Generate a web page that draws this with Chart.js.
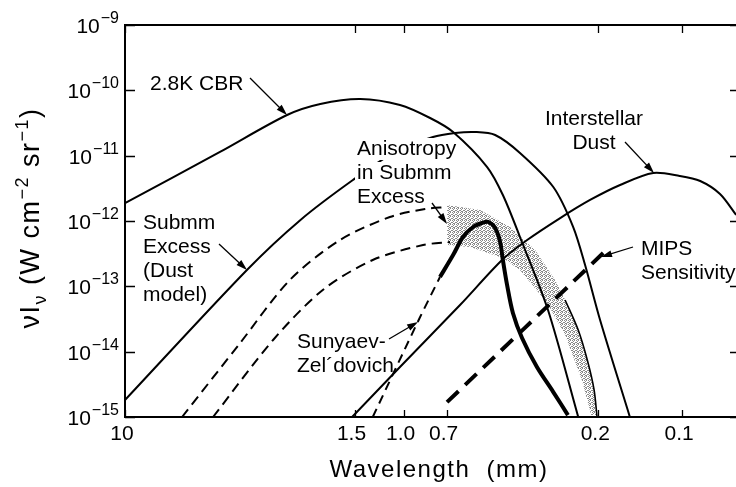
<!DOCTYPE html>
<html>
<head>
<meta charset="utf-8">
<script src="https://cdn.jsdelivr.net/npm/chart.js@4.4.1/dist/chart.umd.min.js"></script>
<style>
  html, body { margin: 0; padding: 0; background: #fff; overflow: hidden; }
  #wrap { width: 736px; height: 487px; overflow: hidden; }
</style>
</head>
<body>
<div id="wrap"><canvas id="chart" width="740" height="487"></canvas></div>
<script>
// === Data: wavelength (mm) vs nu*I_nu (W cm^-2 sr^-1) ===
const xTickValues = [10, 1.5, 1.0, 0.7, 0.2, 0.1];
const xTickLabels = ["10", "1.5", "1.0", "0.7", "0.2", "0.1"];
const yTickExponents = [-9, -10, -11, -12, -13, -14, -15];

const cbrWave = [10, 4.56, 2.62, 1.99, 1.43, 1.03, 0.803, 0.664, 0.501, 0.440, 0.382, 0.303, 0.236];
const cbrFlux = [1.88e-12, 1.14e-11, 4.19e-11, 6.18e-11, 7.36e-11, 5.96e-11, 3.77e-11, 2.30e-11, 6.70e-12, 2.50e-12, 5.69e-13, 4.34e-14, 1.0e-15];

const submmWave = [10, 3.65, 2.35, 1.52, 1.07, 0.784, 0.653, 0.553, 0.469, 0.382, 0.290, 0.246, 0.223, 0.197, 0.154];
const submmFlux = [1.82e-15, 1.78e-13, 1.03e-12, 4.24e-12, 1.14e-11, 1.93e-11, 2.22e-11, 2.30e-11, 2.07e-11, 1.10e-11, 3.31e-12, 8.09e-13, 2.12e-13, 3.05e-14, 1.0e-15];

const dustWave = [1.53, 1.03, 0.627, 0.443, 0.360, 0.274, 0.214, 0.167, 0.127, 0.102, 0.0861, 0.0731, 0.0640];
const dustFlux = [1.0e-15, 5.82e-15, 5.18e-14, 2.53e-13, 5.12e-13, 1.11e-12, 2.10e-12, 3.56e-12, 5.43e-12, 4.89e-12, 4.09e-12, 2.59e-12, 1.24e-12];

const szLowWave = [1.29, 0.879, 0.740];
const szLowFlux = [1.0e-15, 3.16e-14, 1.39e-13];

const szWave = [0.740, 0.664, 0.612, 0.563, 0.523, 0.497, 0.469, 0.450, 0.440, 0.425, 0.405, 0.3755, 0.332, 0.290, 0.257];
const szFlux = [1.39e-13, 3.01e-13, 5.69e-13, 8.09e-13, 9.32e-13, 9.66e-13, 7.82e-13, 4.77e-13, 2.53e-13, 1.05e-13, 3.91e-14, 1.62e-14, 5.82e-15, 2.41e-15, 1.07e-15];

const anisoHighWave = [6.24, 3.86, 2.56, 1.69, 1.12, 0.837, 0.698];
const anisoHighFlux = [1.0e-15, 1.36e-14, 1.25e-13, 5.12e-13, 1.15e-12, 1.53e-12, 1.64e-12];

const anisoLowWave = [4.83, 2.94, 1.95, 1.29, 0.851, 0.681];
const anisoLowFlux = [1.0e-15, 1.51e-14, 8.79e-14, 2.53e-13, 4.29e-13, 4.77e-13];

// solid edge of the anisotropy band down to the axis
const anisoEdgeWave = [0.263, 0.236, 0.218, 0.207, 0.202];
const anisoEdgeFlux = [6.18e-14, 2.14e-14, 6.95e-15, 2.59e-15, 1.0e-15];

// outline of the stippled band (upper edge, then lower edge back)
const bandWave = [0.698, 0.531, 0.415, 0.337, 0.286, 0.252, 0.229, 0.214, 0.202, 0.212, 0.229, 0.263, 0.305, 0.382, 0.440, 0.577, 0.698];
const bandFlux = [1.76e-12, 1.47e-12, 8.09e-13, 3.60e-13, 1.25e-13, 4.34e-14, 1.51e-14, 5.24e-15, 1.07e-15, 1.07e-15, 3.68e-15, 1.80e-14, 5.56e-14, 1.78e-13, 2.71e-13, 4.00e-13, 4.29e-13];

const mipsWave = [0.698, 0.192];
const mipsFlux = [1.69e-15, 3.23e-13];

const FONT = "'Liberation Sans', Arial, sans-serif";

function pts(w, f) {
    return w.map((v, i) => ({ x: v, y: f[i] }));
}

function curve(data, width, dash) {
    return {
        data: data,
        borderColor: "#000",
        borderWidth: width,
        borderDash: dash || [],
        pointRadius: 0,
        fill: false,
        tension: 0.3
    };
}

// stipple pattern for the shaded band
function stipple() {
    const c = document.createElement("canvas");
    c.width = 4; c.height = 4;
    const g = c.getContext("2d");
    g.fillStyle = "rgba(60,60,60,0.6)";
    [[0, 0], [2, 0], [1, 1], [3, 2], [0, 2], [2, 3], [1, 3]].forEach(p => g.fillRect(p[0], p[1], 1, 1));
    return g.createPattern(c, "repeat");
}

// === Annotation labels and arrows (pixel layout) ===
const notes = [
    { lines: ["2.8K CBR"], x: 150, y: 90, align: "left", arrow: [250, 78, 287, 115] },
    { lines: ["Submm", "Excess", "(Dust", "model)"], x: 143, y: 229, align: "left", arrow: [219, 244, 247, 270] },
    { lines: ["Anisotropy", "in Submm", "Excess"], x: 357, y: 155, align: "left", arrow: [432, 203, 447, 224], blank: true },
    { lines: ["Interstellar", "Dust"], x: 594, y: 125, align: "center", arrow: [625, 142, 654, 173] },
    { lines: ["MIPS", "Sensitivity"], x: 641, y: 255, align: "left", arrow: [633, 247, 601, 257] },
    { lines: ["Sunyaev-", "Zel\u00b4dovich"], x: 297, y: 348, align: "left", arrow: [389, 339, 418, 322] }
];

function drawArrow(ctx, x1, y1, x2, y2) {
    const a = Math.atan2(y2 - y1, x2 - x1);
    ctx.beginPath();
    ctx.moveTo(x1, y1);
    ctx.lineTo(x2 - 6 * Math.cos(a), y2 - 6 * Math.sin(a));
    ctx.lineWidth = 1.3;
    ctx.stroke();
    ctx.beginPath();
    ctx.moveTo(x2, y2);
    ctx.lineTo(x2 - 11 * Math.cos(a) + 3.5 * Math.sin(a), y2 - 11 * Math.sin(a) - 3.5 * Math.cos(a));
    ctx.lineTo(x2 - 11 * Math.cos(a) - 3.5 * Math.sin(a), y2 - 11 * Math.sin(a) + 3.5 * Math.cos(a));
    ctx.closePath();
    ctx.fill();
}

const decorations = {
    id: "decorations",
    afterDatasetsDraw(chart) {
        const ctx = chart.ctx;
        const area = chart.chartArea;
        const xs = chart.scales.x;
        const ys = chart.scales.y;
        ctx.save();
        ctx.strokeStyle = "#000";
        ctx.fillStyle = "#000";

        // frame
        ctx.lineWidth = 2;
        ctx.strokeRect(area.left, area.top, area.right - area.left, area.bottom - area.top);

        // inward ticks
        ctx.lineWidth = 1.3;
        yTickExponents.forEach(e => {
            const py = Math.round(ys.getPixelForValue(Math.pow(10, e))) + 0.5;
            ctx.beginPath();
            ctx.moveTo(area.left, py); ctx.lineTo(area.left + 10, py);
            ctx.moveTo(area.right, py); ctx.lineTo(area.right - 8, py);
            ctx.stroke();
        });
        xTickValues.forEach(v => {
            const px = Math.round(xs.getPixelForValue(v)) + 0.5;
            ctx.beginPath();
            ctx.moveTo(px, area.bottom); ctx.lineTo(px, area.bottom - 7);
            ctx.moveTo(px, area.top); ctx.lineTo(px, area.top + 8);
            ctx.stroke();
        });

        // y tick labels 10^n
        yTickExponents.forEach(e => {
            const py = ys.getPixelForValue(Math.pow(10, e));
            const exp = "\u2212" + String(-e);
            ctx.font = "16px " + FONT;
            const we = ctx.measureText(exp).width;
            ctx.textAlign = "left";
            ctx.textBaseline = "alphabetic";
            ctx.fillText(exp, 119 - we, py - 2);
            ctx.font = "21px " + FONT;
            const wb = ctx.measureText("10").width;
            ctx.fillText("10", 119 - we - wb - 1, py + 8);
        });

        // x tick labels
        ctx.font = "21px " + FONT;
        ctx.textAlign = "center";
        ctx.textBaseline = "alphabetic";
        xTickValues.forEach((v, i) => {
            const px = xs.getPixelForValue(v);
            ctx.fillText(xTickLabels[i], px - 3, 440);
        });

        // x axis title
        ctx.font = "24px " + FONT;
        ctx.letterSpacing = "1.5px";
        ctx.fillText("Wavelength  (mm)", 439, 477);

        // y axis title, rotated, with sub/superscripts
        const parts = [
            ["\u03bd", 27, 0], ["I", 27, 0], ["\u03bd", 18, 7],
            [" (W cm", 27, 0], ["\u22122", 18, -11], [" sr", 27, 0], ["\u22121", 18, -11], [")", 27, 0]
        ];
        let total = 0;
        parts.forEach(p => { ctx.font = p[1] + "px " + FONT; total += ctx.measureText(p[0]).width; });
        ctx.translate(39, 218 + total / 2);
        ctx.rotate(-Math.PI / 2);
        ctx.textAlign = "left";
        let cx = 0;
        parts.forEach(p => {
            ctx.font = p[1] + "px " + FONT;
            ctx.fillText(p[0], cx, p[2]);
            cx += ctx.measureText(p[0]).width;
        });
        ctx.setTransform(1, 0, 0, 1, 0, 0);
        ctx.letterSpacing = "0px";

        // annotations
        ctx.font = "21px " + FONT;
        notes.forEach(n => {
            ctx.textAlign = n.align;
            n.lines.forEach((t, i) => {
                const ty = n.y + i * 24;
                if (n.blank) {
                    const w = ctx.measureText(t).width;
                    ctx.fillStyle = "#fff";
                    ctx.fillRect(n.x - 2, ty - 17, w + 4, 22);
                    ctx.fillStyle = "#000";
                }
                ctx.fillText(t, n.x, ty);
            });
            drawArrow(ctx, n.arrow[0], n.arrow[1], n.arrow[2], n.arrow[3]);
        });
        ctx.restore();
    }
};

new Chart(document.getElementById("chart"), {
    type: "line",
    data: {
        datasets: [
            curve(pts(cbrWave, cbrFlux), 2),
            curve(pts(submmWave, submmFlux), 2),
            curve(pts(dustWave, dustFlux), 2),
            curve(pts(szLowWave, szLowFlux), 2, [9, 6]),
            curve(pts(szWave, szFlux), 4),
            curve(pts(anisoHighWave, anisoHighFlux), 2, [10, 6]),
            curve(pts(anisoLowWave, anisoLowFlux), 2, [10, 6]),
            curve(pts(anisoEdgeWave, anisoEdgeFlux), 1.6),
            curve(pts(mipsWave, mipsFlux), 4, [16, 9]),
            {
                data: pts(bandWave, bandFlux),
                borderWidth: 0,
                borderColor: "rgba(0,0,0,0)",
                backgroundColor: stipple(),
                pointRadius: 0,
                tension: 0,
                fill: "shape",
                order: 10
            }
        ]
    },
    options: {
        responsive: false,
        animation: false,
        devicePixelRatio: 1,
        layout: { padding: { top: 25, right: 2, left: 0, bottom: 0 } },
        plugins: { legend: { display: false }, tooltip: { enabled: false } },
        scales: {
            x: {
                type: "logarithmic",
                reverse: true,
                min: 0.063,
                max: 10,
                grid: { display: false },
                border: { display: false },
                ticks: { display: false },
                afterFit(scale) { scale.height = 70; }
            },
            y: {
                type: "logarithmic",
                min: 1e-15,
                max: 1e-9,
                grid: { display: false },
                border: { display: false },
                ticks: { display: false },
                afterFit(scale) { scale.width = 125; }
            }
        }
    },
    plugins: [decorations]
});
</script>
</body>
</html>
